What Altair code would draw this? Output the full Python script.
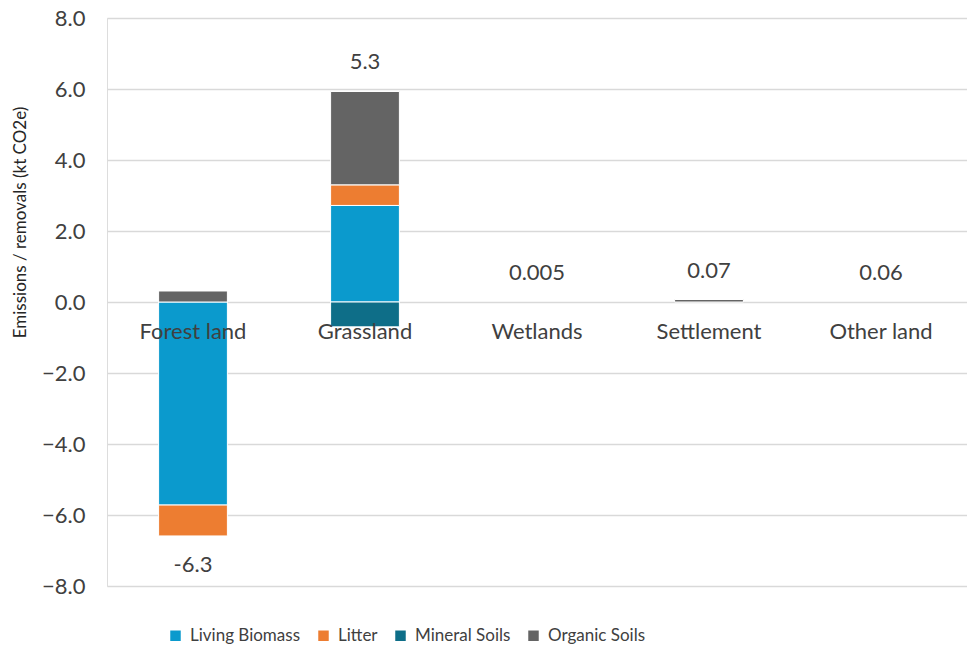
import altair as alt
import pandas as pd

categories = ["Forest land", "Grassland", "Wetlands", "Settlement", "Other land"]
components = ["Living Biomass", "Litter", "Mineral Soils", "Organic Soils"]
colors = ["#0B9ACD", "#ED7D31", "#0E6E88", "#646464"]

living_biomass = [-5.72, 2.72, 0.0, 0.0, 0.0]
litter = [-0.87, 0.58, 0.0, 0.0, 0.0]
mineral_soils = [0.0, -0.70, 0.0, 0.0, 0.0]
organic_soils = [0.31, 2.63, 0.0, 0.07, 0.0]
total_values = [-6.3, 5.3, 0.005, 0.07, 0.06]
total_labels = ["-6.3", "5.3", "0.005", "0.07", "0.06"]

series = [living_biomass, litter, mineral_soils, organic_soils]
rows = []
for ci, comp in enumerate(components):
    for k, cat in enumerate(categories):
        rows.append({"category": cat, "component": comp, "order": ci, "value": series[ci][k]})
df = pd.DataFrame(rows)

lab_rows = []
for k, cat in enumerate(categories):
    pos = sum(s[k] for s in series if s[k] > 0)
    neg = sum(s[k] for s in series if s[k] < 0)
    lab_rows.append({
        "category": cat,
        "total": total_values[k],
        "label": total_labels[k],
        "ypos": pos if total_values[k] >= 0 else neg,
    })
labels = pd.DataFrame(lab_rows)

FONT = "Lato"
FS = 22
TXT = "#404040"

x_enc = alt.X(
    "category:N",
    sort=categories,
    scale=alt.Scale(domain=categories, paddingInner=0.6, paddingOuter=0.3),
    axis=alt.Axis(
        title=None, orient="bottom", offset=-284, domain=False, ticks=False,
        labelPadding=19, labelAngle=0, labelFont=FONT, labelFontSize=FS,
        labelColor=TXT, grid=False, zindex=1,
    ),
)
y_scale = alt.Scale(domain=[-8, 8], nice=False, zero=False)

bars = alt.Chart(df).transform_filter("datum.value != 0").mark_bar(
    stroke="white", strokeWidth=1
).encode(
    x=x_enc,
    y=alt.Y(
        "value:Q", stack="zero", scale=y_scale,
        axis=alt.Axis(
            title="Emissions / removals (kt CO2e)", values=[-8, -6, -4, -2, 0, 2, 4, 6, 8],
            format=".1f", grid=True, gridColor="#D9D9D9", gridWidth=1.3,
            domain=False, ticks=False, labelPadding=22, labelFont=FONT,
            labelFontSize=FS, labelColor=TXT, titleFont=FONT, titleFontSize=17,
            titleFontWeight="normal", titleColor="#262626", titleX=-87, titleY=204,
            titleAngle=-90, titleBaseline="middle", zindex=0,
        ),
    ),
    color=alt.Color(
        "component:N", sort=components,
        scale=alt.Scale(domain=components, range=colors),
        legend=alt.Legend(
            title=None, orient="none", legendX=60, legendY=609, direction="horizontal",
            symbolType="square", symbolSize=110, symbolStrokeWidth=0,
            labelFont=FONT, labelFontSize=17, labelColor=TXT, labelOffset=6,
            columnPadding=14, values=components,
        ),
    ),
    order=alt.Order("order:Q", sort="ascending"),
)

pos_text = alt.Chart(labels).transform_filter("datum.total >= 0").mark_text(
    font=FONT, fontSize=FS, color=TXT, dy=-29, baseline="middle"
).encode(
    x=alt.X("category:N", sort=categories),
    y=alt.Y("ypos:Q", scale=y_scale),
    text="label:N",
)
neg_text = alt.Chart(labels).transform_filter("datum.total < 0").mark_text(
    font=FONT, fontSize=FS, color=TXT, dy=29, baseline="middle"
).encode(
    x=alt.X("category:N", sort=categories),
    y=alt.Y("ypos:Q", scale=y_scale),
    text="label:N",
)

chart = alt.layer(bars, pos_text, neg_text).properties(
    width=860, height=568,
    autosize=alt.AutoSizeParams(type="none"),
    padding={"left": 107, "top": 18, "right": 0, "bottom": 69},
).configure_view(stroke=None).configure(background="white")

chart.save("out.html", embed_options={"renderer": "svg", "actions": False})
